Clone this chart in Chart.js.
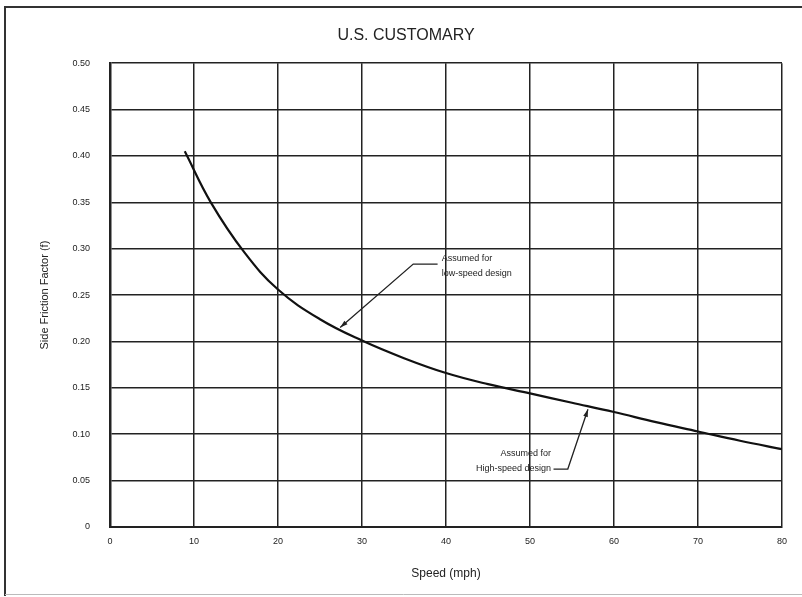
<!DOCTYPE html>
<html>
<head>
<meta charset="utf-8">
<script src="https://cdn.jsdelivr.net/npm/chart.js@4/dist/chart.umd.min.js"></script>
<style>
  html, body { margin: 0; padding: 0; background: #fff; }
  #wrap { width: 802px; height: 597px; }
</style>
</head>
<body>
<div id="wrap"><canvas id="frictionChart" width="802" height="597"></canvas></div>
<script>
// speed (mph) and side friction factor
const speeds = [8.9, 12, 16, 20, 25, 30, 35, 40, 45, 50, 55, 60, 65, 70, 75, 80]
const friction = [0.405, 0.35, 0.296, 0.256, 0.224, 0.201, 0.182, 0.166, 0.154, 0.144, 0.134, 0.124, 0.113, 0.103, 0.093, 0.084]

const xTicks = [0, 10, 20, 30, 40, 50, 60, 70, 80]
const yTicks = ["0", "0.05", "0.10", "0.15", "0.20", "0.25", "0.30", "0.35", "0.40", "0.45", "0.50"]

// callouts, placed in data units
const lowSpeedNote = ["Assumed for", "low-speed design"]
const highSpeedNote = ["Assumed for", "High-speed design"]

const font = "'Liberation Sans', Arial, sans-serif"

function arrowHead(ctx, fromX, fromY, toX, toY) {
    let ang = Math.atan2(toY - fromY, toX - fromX)
    ctx.beginPath()
    ctx.moveTo(toX, toY)
    ctx.lineTo(toX - 8 * Math.cos(ang - 0.3), toY - 8 * Math.sin(ang - 0.3))
    ctx.lineTo(toX - 8 * Math.cos(ang + 0.3), toY - 8 * Math.sin(ang + 0.3))
    ctx.closePath()
    ctx.fill()
}

const notesPlugin = {
    id: "notes",
    beforeDraw(chart) {
        let ctx = chart.ctx
        ctx.save()
        // frame round the figure
        ctx.strokeStyle = "#333"
        ctx.lineWidth = 2
        ctx.beginPath()
        ctx.moveTo(5, 596)
        ctx.lineTo(5, 7)
        ctx.lineTo(802, 7)
        ctx.stroke()
        ctx.strokeStyle = "#bbb"
        ctx.lineWidth = 1
        ctx.beginPath()
        ctx.moveTo(5, 594.5)
        ctx.lineTo(802, 594.5)
        ctx.stroke()
        ctx.restore()
    },
    afterDatasetsDraw(chart) {
        let ctx = chart.ctx
        let x = chart.scales.x
        let y = chart.scales.y
        ctx.save()
        ctx.fillStyle = "#222"
        ctx.strokeStyle = "#222"
        ctx.lineWidth = 1.3
        ctx.font = "9px " + font
        ctx.textBaseline = "middle"

        // low-speed callout
        let tx = x.getPixelForValue(39.5)
        ctx.textAlign = "left"
        ctx.fillText(lowSpeedNote[0], tx, y.getPixelForValue(0.2895))
        ctx.fillText(lowSpeedNote[1], tx, y.getPixelForValue(0.2735))
        let kx = x.getPixelForValue(36.1), ky = y.getPixelForValue(0.2835)
        let ax = x.getPixelForValue(27.4), ay = y.getPixelForValue(0.215)
        ctx.beginPath()
        ctx.moveTo(x.getPixelForValue(39.0), ky)
        ctx.lineTo(kx, ky)
        ctx.lineTo(ax, ay)
        ctx.stroke()
        arrowHead(ctx, kx, ky, ax, ay)

        // high-speed callout
        let rx = x.getPixelForValue(52.5)
        ctx.textAlign = "right"
        ctx.fillText(highSpeedNote[0], rx, y.getPixelForValue(0.079))
        ctx.fillText(highSpeedNote[1], rx, y.getPixelForValue(0.063))
        let hx = x.getPixelForValue(54.5), hy = y.getPixelForValue(0.0625)
        let bx = x.getPixelForValue(56.9), by = y.getPixelForValue(0.127)
        ctx.beginPath()
        ctx.moveTo(x.getPixelForValue(52.8), hy)
        ctx.lineTo(hx, hy)
        ctx.lineTo(bx, by)
        ctx.stroke()
        arrowHead(ctx, hx, hy, bx, by)
        ctx.restore()
    }
}

new Chart(document.getElementById("frictionChart"), {
    type: "line",
    data: {
        datasets: [{
            data: speeds.map((s, i) => ({ x: s, y: friction[i] })),
            borderColor: "#111",
            borderWidth: 2.2,
            pointRadius: 0,
            tension: 0.4,
            fill: false
        }]
    },
    options: {
        responsive: false,
        animation: false,
        layout: {
            padding: { top: 20, right: 20, bottom: 10, left: 30 }
        },
        plugins: {
            legend: { display: false },
            tooltip: { enabled: false },
            title: {
                display: true,
                text: "U.S. CUSTOMARY",
                color: "#222",
                font: { family: font, size: 16, weight: "normal" },
                padding: { top: 6, bottom: 18 }
            }
        },
        scales: {
            x: {
                type: "linear",
                min: 0,
                max: 80,
                afterFit: (scale) => { scale.height = 60 },
                afterBuildTicks: (scale) => { scale.ticks = xTicks.map(v => ({ value: v })) },
                ticks: {
                    color: "#222",
                    padding: 9,
                    maxRotation: 0,
                    font: { family: font, size: 9 },
                    callback: (value) => String(value)
                },
                grid: { color: "#222", lineWidth: 1.5, drawTicks: false },
                border: { color: "#222", width: 2 },
                title: {
                    display: true,
                    text: "Speed (mph)",
                    color: "#222",
                    font: { family: font, size: 12 },
                    padding: { top: 0, bottom: 6 }
                }
            },
            y: {
                min: 0,
                max: 0.5,
                afterFit: (scale) => { scale.width = 80 },
                afterBuildTicks: (scale) => { scale.ticks = yTicks.map(v => ({ value: parseFloat(v) })) },
                ticks: {
                    color: "#222",
                    padding: 20,
                    font: { family: font, size: 9 },
                    callback: (value, index) => yTicks[index]
                },
                grid: { color: "#222", lineWidth: 1.5, drawTicks: false },
                border: { color: "#222", width: 2.5 },
                title: {
                    display: true,
                    text: "Side Friction Factor (f)",
                    color: "#222",
                    font: { family: font, size: 11 },
                    padding: { top: 8, bottom: 0 }
                }
            }
        }
    },
    plugins: [notesPlugin]
})
</script>
</body>
</html>
